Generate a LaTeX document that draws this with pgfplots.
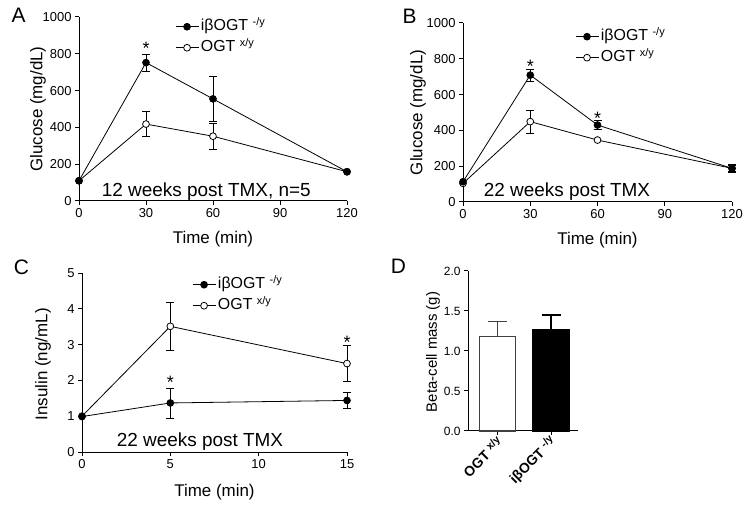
\documentclass[border=0pt]{standalone}
\usepackage{fontspec}
\setmainfont{Liberation Sans}
\usepackage{pgfplots}
\pgfplotsset{compat=1.18}

\newcommand{\sups}[1]{\raisebox{5bp}{\fontsize{11}{11}\selectfont #1}}
\newcommand{\supd}[1]{\raisebox{4.5bp}{\fontsize{10.5}{10.5}\selectfont #1}}
\newcommand{\lfont}{\fontsize{17}{17}\selectfont}
\newcommand{\gfont}{\fontsize{16}{16}\selectfont}

\pgfplotsset{
 gp/.style={
  scale only axis,
  clip=false,
  axis lines=left,
  axis line style={-, line width=1bp},
  tick align=outside,
  major tick length=4bp,
  tick style={line width=1bp, black},
  /pgf/number format/assume math mode=true,
  /pgf/number format/1000 sep={},
  tick label style={font=\fontsize{13}{13}\selectfont},
  legend style={draw=none, fill=none, inner sep=0pt, font=\gfont, row sep=3bp, nodes={text height=11bp, text depth=3bp, inner sep=2bp}},
  legend cell align=left,
  legend image code/.code={\draw[mark repeat=2,mark phase=2] plot coordinates {(0bp,0bp)(11.5bp,0bp)(23bp,0bp)};},
  reverse legend,
 },
 ko/.style={black, line width=0.8bp, mark=*, mark size=3.4bp, mark options={fill=white, line width=0.8bp},
   error bars/.cd, y dir=both, y explicit, error mark=|, error mark options={mark size=4bp, line width=0.8bp, black}, error bar style={line width=0.8bp, black}},
 kf/.style={black, line width=0.8bp, mark=*, mark size=3.4bp, mark options={fill=black, line width=0.8bp},
   error bars/.cd, y dir=both, y explicit, error mark=|, error mark options={mark size=4bp, line width=0.8bp, black}, error bar style={line width=0.8bp, black}},
 star/.style={draw=none, mark=none, forget plot, nodes near coords={*}, every node near coord/.append style={anchor=center, font=\fontsize{18}{18}\selectfont, inner sep=0pt}},
}

\begin{document}
\begin{tikzpicture}
\useasboundingbox (0,0) rectangle (751bp,509bp);

% Panel letters
\node[font=\fontsize{21}{21}\selectfont, inner sep=0pt] at (18.5bp,493.5bp) {A};
\node[font=\fontsize{21}{21}\selectfont, inner sep=0pt] at (409.5bp,492.5bp) {B};
\node[font=\fontsize{21}{21}\selectfont, inner sep=0pt] at (21.5bp,241.5bp) {C};
\node[font=\fontsize{21}{21}\selectfont, inner sep=0pt] at (398.5bp,243bp) {D};

% ---------- A ----------
\begin{axis}[gp, at={(79bp,308bp)}, anchor=south west, width=268bp, height=184bp,
  xmin=0, xmax=120, ymin=0, ymax=1000,
  xtick={0,30,60,90,120}, ytick={0,200,400,600,800,1000},
  xlabel={Time (min)}, ylabel={Glucose (mg/dL)},
  xlabel style={at={(axis description cs:0.5,-0.207)}, anchor=center, font=\lfont},
  ylabel style={at={(axis description cs:-0.153,0.5)}, anchor=center, font=\lfont},
  legend style={at={(axis description cs:0.358,0.997)}, anchor=north west, font=\gfont}]
\addplot[ko] coordinates {(0,110) (30,418) +- (0,68) (60,352) +- (0,72) (120,159)};
\addlegendentry{OGT \sups{x/y}}
\addplot[kf] coordinates {(0,110) (30,752) +- (0,46) (60,555) +- (0,124) (120,159)};
\addlegendentry{iβOGT \sups{-/y}}
\addplot[star] coordinates {(30,827)};
\node[font=\fontsize{19}{19}\selectfont] at (axis cs:57,52) {12 weeks post TMX, n=5};
\end{axis}

% ---------- B ----------
\begin{axis}[gp, at={(463bp,307bp)}, anchor=south west, width=269bp, height=179bp,
  xmin=0, xmax=120, ymin=0, ymax=1000,
  xtick={0,30,60,90,120}, ytick={0,200,400,600,800,1000},
  xlabel={Time (min)}, ylabel={Glucose (mg/dL)},
  xlabel style={at={(axis description cs:0.5,-0.212)}, anchor=center, font=\lfont},
  ylabel style={at={(axis description cs:-0.167,0.5)}, anchor=center, font=\lfont},
  legend style={at={(axis description cs:0.416,0.975)}, anchor=north west, font=\gfont}]
\addplot[ko] coordinates {(0,104) (30,449) +- (0,65) (60,346) (120,188) +- (0,15)};
\addlegendentry{OGT \sups{x/y}}
\addplot[kf] coordinates {(0,113) (30,709) +- (0,33) (60,430) +- (0,24) (120,188) +- (0,22)};
\addlegendentry{iβOGT \sups{-/y}}
\addplot[star] coordinates {(30,760) (60,468)};
\node[font=\fontsize{19}{19}\selectfont] at (axis cs:46.4,56) {22 weeks post TMX};
\end{axis}

% ---------- C ----------
\begin{axis}[gp, at={(82bp,57bp)}, anchor=south west, width=265bp, height=179bp,
  xmin=0, xmax=15, ymin=0, ymax=5,
  xtick={0,5,10,15}, ytick={0,1,2,3,4,5},
  xlabel={Time (min)}, ylabel={Insulin (ng/mL)},
  xlabel style={at={(axis description cs:0.5,-0.223)}, anchor=center, font=\lfont},
  ylabel style={at={(axis description cs:-0.147,0.49)}, anchor=center, font=\lfont},
  legend style={at={(axis description cs:0.415,0.986)}, anchor=north west, font=\gfont}]
\addplot[ko] coordinates {(0,1.0) (5,3.51) +- (0,0.68) (15,2.47) +- (0,0.51)};
\addlegendentry{OGT \sups{x/y}}
\addplot[kf] coordinates {(0,0.99) (5,1.37) +- (0,0.42) (15,1.44) +- (0,0.22)};
\addlegendentry{iβOGT \sups{-/y}}
\addplot[star] coordinates {(5,1.95) (15,3.07)};
\node[font=\fontsize{19}{19}\selectfont] at (axis cs:6.68,0.28) {22 weeks post TMX};
\end{axis}

% ---------- D ----------
\begin{axis}[gp, at={(468bp,78bp)}, anchor=south west, width=110bp, height=160bp,
  xmin=0.46, xmax=2.5, ymin=0, ymax=2,
  ytick={0,0.5,1,1.5,2},
  yticklabel style={/pgf/number format/fixed, /pgf/number format/fixed zerofill, /pgf/number format/precision=1},
  tick label style={font=\fontsize{12}{12}\selectfont},
  xtick={1,2}, xticklabels={OGT \supd{x/y}, iβOGT \supd{-/y}},
  xticklabel style={rotate=45, anchor=east, yshift=-5bp, xshift=2bp, font=\bfseries\fontsize{14}{14}\selectfont},
  ylabel={Beta-cell mass (g)},
  ylabel style={font=\fontsize{15}{15}\selectfont, at={(axis description cs:-0.318,0.494)}, anchor=center}]
\addplot[ybar, bar width=36bp, bar shift=0pt, fill=white, draw=black!75, line width=1.2bp,
  error bars/.cd, y dir=plus, y explicit, error mark=|, error mark options={mark size=9.5bp, line width=1.2bp, black!75}, error bar style={line width=1.2bp, black!75}]
  coordinates {(1,1.18) +- (0,0.19)};
\addplot[ybar, bar width=36bp, bar shift=0pt, fill=black, draw=black, line width=1.2bp,
  error bars/.cd, y dir=plus, y explicit, error mark=|, error mark options={mark size=9.5bp, line width=1.2bp, black}, error bar style={line width=1.2bp, black}]
  coordinates {(2,1.27) +- (0,0.18)};
\end{axis}
\end{tikzpicture}
\end{document}
